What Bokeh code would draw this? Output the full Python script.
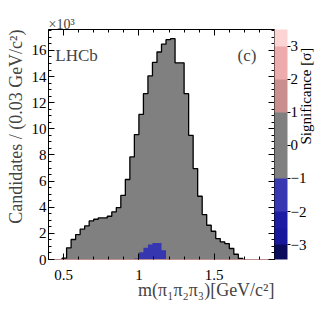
import math
from bokeh.plotting import figure
from bokeh.models import (Range1d, LinearAxis, SingleIntervalTicker, FixedTicker,
                          Label, Title, CustomJSTickFormatter, ColorBar, LinearColorMapper)
from bokeh.embed import file_html
from bokeh.resources import INLINE

FONT = "Liberation Serif"

# ---------------- data ----------------
bin_start = 0.40
bin_width = 0.03
# candidates per 0.03 GeV bin, from 0.40 to 1.90 GeV
counts = [0, 0, 0, 100, 890, 1530, 1910, 2320, 2570, 2950,
          3080, 3180, 3180, 3310, 3640, 3970, 4900, 6120, 7850, 9560,
          11100, 12690, 14050, 15080, 15880, 16480, 16820, 16900, 15050, 15050,
          12690, 9500, 6960, 4840, 3440, 2620, 2160, 1600, 1350, 1220,
          840, 400, 80, 0, 0, 0, 0, 0, 0, 0]
# low-significance (blue) cells
blue_lo = [0.97, 1.00, 1.03, 1.06, 1.09, 1.12, 1.15]
blue_counts = [80, 560, 900, 1150, 1260, 1260, 710]

x_ticks_major = 0.5
y_ticks_major = 2000
cbar_edges = [-3.45, -3.0, -2.5, -2.0, -1.0, 1.0, 2.0, 3.0, 3.5]
cbar_colors = ["#0b0b5c", "#17179c", "#1c1ca2", "#3838b2", "#808080",
               "#c98f8f", "#eeabab", "#fcd4d4"]
cbar_ticks = [-3, -2, -1, 0, 1, 2, 3]

x_title = "m(π₁π₂π₃)[GeV/c²]"
y_title = "Candidates / (0.03 GeV/c²)"
z_title = "Significance [σ]"
exp_label = "×10³"

edges = [bin_start + i * bin_width for i in range(len(counts) + 1)]


def step_path(lo_edges, hi_edges, vals):
    xs, ys = [lo_edges[0]], [0]
    for a, b, v in zip(lo_edges, hi_edges, vals):
        xs += [a, b]
        ys += [v, v]
    xs.append(hi_edges[-1])
    ys.append(0)
    return xs, ys


nz = [i for i, c in enumerate(counts) if c > 0]
f, l = nz[0], nz[-1]
hx, hy = step_path(edges[f:l + 1], edges[f + 1:l + 2], counts[f:l + 1])
bx, by = step_path(blue_lo, [b + bin_width for b in blue_lo], blue_counts)

# palette sampled from the colour bands at 0.05 sigma resolution
n_pal = int(round((cbar_edges[-1] - cbar_edges[0]) / 0.05))
palette = []
for k in range(n_pal):
    v = cbar_edges[0] + 0.05 * (k + 0.5)
    for j in range(len(cbar_colors)):
        if cbar_edges[j] <= v < cbar_edges[j + 1]:
            palette.append(cbar_colors[j])
            break

# ---------------- figure ----------------
X0, X1, Y0, Y1 = 0.4, 1.9, 0, 17600
p = figure(width=324, height=311, x_range=Range1d(X0, X1), y_range=Range1d(Y0, Y1),
           output_backend="svg", toolbar_location=None,
           min_border_left=45, min_border_right=50, min_border_top=29, min_border_bottom=52,
           x_axis_location=None, y_axis_location=None)
p.grid.visible = False
p.outline_line_color = None

p.patch(hx, hy, fill_color="#808080", line_color=None)
p.patch(bx, by, fill_color="#3636b0", line_color=None)
p.line(hx, hy, line_color="black", line_width=1.3)

xt = SingleIntervalTicker(interval=x_ticks_major, num_minor_ticks=5)
yt = SingleIntervalTicker(interval=y_ticks_major, num_minor_ticks=4)
blank = CustomJSTickFormatter(code='return "";')


def style(ax, show):
    ax.major_tick_in = 6
    ax.major_tick_out = 0
    ax.minor_tick_in = 3
    ax.minor_tick_out = 0
    ax.axis_line_color = "black"
    ax.major_tick_line_color = "black"
    ax.minor_tick_line_color = "black"
    ax.major_label_text_font = FONT
    ax.major_label_text_color = "black"
    ax.major_label_text_font_size = "15px"
    if not show:
        ax.formatter = blank
        ax.major_label_standoff = 0


xb = LinearAxis(ticker=xt, formatter=CustomJSTickFormatter(code="return String(Math.round(tick*10)/10);"))
style(xb, True)
xb.major_label_standoff = 10
xb.axis_line_color = "#c09090"
xa = LinearAxis(ticker=xt)
style(xa, False)
yl = LinearAxis(ticker=yt, formatter=CustomJSTickFormatter(code="return (tick/1000).toFixed(0);"))
style(yl, True)
yl.major_label_standoff = 2
yr = LinearAxis(ticker=yt)
style(yr, False)
yr.major_label_standoff = 2

p.add_layout(xb, "below")
p.add_layout(xa, "above")
p.add_layout(yl, "left")
p.add_layout(yr, "right")

p.title.text = exp_label
p.title.align = "left"
p.title.text_font = FONT
p.title.text_font_size = "14px"
p.title.text_font_style = "normal"
p.title.standoff = -5

p.add_layout(Title(text=x_title, align="right", text_font=FONT, text_font_size="18px",
                   text_font_style="normal", standoff=-9), "below")
p.add_layout(Title(text=y_title, align="right", text_font=FONT, text_font_size="18px",
                   text_font_style="normal", standoff=6), "left")

mapper = LinearColorMapper(palette=palette, low=cbar_edges[0], high=cbar_edges[-1])
cbar = ColorBar(color_mapper=mapper, width=13, padding=0, margin=0,
                ticker=FixedTicker(ticks=cbar_ticks, minor_ticks=[]),
                major_tick_in=0, major_tick_out=3, major_tick_line_color="black",
                label_standoff=0, major_label_text_font=FONT,
                major_label_text_font_size="15px", major_label_text_color="black",
                bar_line_color=None, border_line_color=None, background_fill_color=None)
p.add_layout(cbar, "right")

zax = LinearAxis(ticker=FixedTicker(ticks=[], minor_ticks=[]), bounds=(8500, 17670),
                 axis_label=z_title, axis_label_standoff=-4,
                 axis_label_text_font=FONT, axis_label_text_font_size="15px",
                 axis_label_text_font_style="normal", axis_label_text_color="black",
                 axis_label_orientation=math.pi / 2)
zax.axis_line_color = None
zax.major_tick_line_color = None
zax.minor_tick_line_color = None
zax.major_tick_out = 0
zax.major_tick_in = 0
zax.major_label_standoff = 0
p.add_layout(zax, "right")

p.add_layout(Label(x=0.445, y=15600, text="LHCb", text_font=FONT, text_font_size="17px",
                   text_baseline="middle", text_align="left"))
p.add_layout(Label(x=1.78, y=15600, text="(c)", text_font=FONT, text_font_size="17px",
                   text_baseline="middle", text_align="right"))

open("out.html", "w").write(file_html(p, INLINE))
